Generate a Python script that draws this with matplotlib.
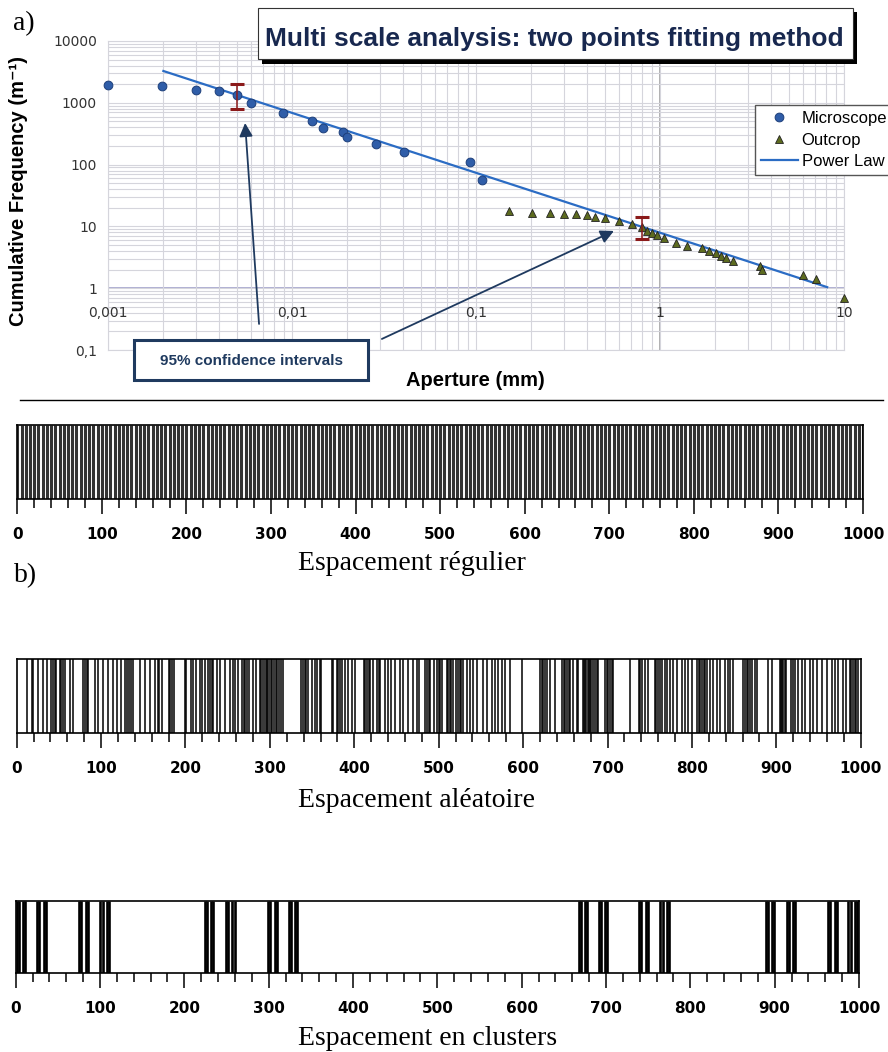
import numpy as np
import matplotlib
matplotlib.use("Agg")
import matplotlib.pyplot as plt
from matplotlib.patches import Rectangle
from matplotlib.lines import Line2D
from matplotlib.ticker import MultipleLocator, NullFormatter

W, H = 888, 1052

# ---- a) multi scale analysis ----
micro_x = [0.001, 0.00196, 0.003, 0.004, 0.005, 0.006, 0.0089, 0.0128, 0.0147,
           0.0189, 0.0199, 0.0286, 0.0407, 0.0927, 0.108]
micro_y = [1940, 1870, 1610, 1550, 1340, 1000, 685, 510, 391, 337, 280, 215, 160,
           110, 56]
outcrop_x = [0.151, 0.201, 0.252, 0.301, 0.349, 0.401, 0.443, 0.502, 0.598, 0.705,
             0.798, 0.85, 0.905, 0.964, 1.05, 1.22, 1.40, 1.69, 1.85, 2.01, 2.15,
             2.29, 2.49, 3.49, 3.58, 5.98, 7.04, 10.0]
outcrop_y = [17.7, 16.5, 16.5, 15.9, 15.9, 15.3, 14.2, 13.7, 12.2, 10.9, 9.8, 8.4,
             7.8, 7.3, 6.5, 5.4, 4.8, 4.5, 4.0, 3.7, 3.3, 3.08, 2.75, 2.29, 1.97,
             1.64, 1.41, 0.69]
law_x = [0.002, 8.1]
law_y = [3270, 1.04]
err_x = [0.005, 0.8]
err_lo = [794, 6.3]
err_hi = [2010, 14.2]

x_ticks = [0.001, 0.01, 0.1, 1, 10]
x_tick_labels = ["0,001", "0,01", "0,1", "1", "10"]
y_ticks = [0.1, 1, 10, 100, 1000, 10000]
y_tick_labels = ["0,1", "1", "10", "100", "1000", "10000"]

# ---- b) spacing strips ----
regular_pos = [
    0, 5, 10, 15, 20, 25, 30, 35, 40, 45, 50, 55, 60, 65, 70, 75, 80, 85, 90, 95,
    100, 105, 110, 115, 120, 125, 130, 135, 140, 145, 150, 155, 160, 165, 170, 175, 180, 185, 190, 195,
    200, 205, 210, 215, 220, 225, 230, 235, 240, 245, 250, 255, 260, 265, 270, 275, 280, 285, 290, 295,
    300, 305, 310, 315, 320, 325, 330, 335, 340, 345, 350, 355, 360, 365, 370, 375, 380, 385, 390, 395,
    400, 405, 410, 415, 420, 425, 430, 435, 440, 445, 450, 455, 460, 465, 470, 475, 480, 485, 490, 495,
    500, 505, 510, 515, 520, 525, 530, 535, 540, 545, 550, 555, 560, 565, 570, 575, 580, 585, 590, 595,
    600, 605, 610, 615, 620, 625, 630, 635, 640, 645, 650, 655, 660, 665, 670, 675, 680, 685, 690, 695,
    700, 705, 710, 715, 720, 725, 730, 735, 740, 745, 750, 755, 760, 765, 770, 775, 780, 785, 790, 795,
    800, 805, 810, 815, 820, 825, 830, 835, 840, 845, 850, 855, 860, 865, 870, 875, 880, 885, 890, 895,
    900, 905, 910, 915, 920, 925, 930, 935, 940, 945, 950, 955, 960, 965, 970, 975, 980, 985, 990, 995,
    1000]

random_pos = [
    11.8, 17.8, 19.7, 25.6, 30.8, 35.5, 41, 43, 45, 47, 51, 53, 55, 57, 63.2, 67,
    79, 81, 83, 85, 92.8, 96.7, 102.6, 108.5, 114.5, 118.5, 123.2, 128, 130.5, 133,
    135.5, 138, 146, 152, 158, 164, 167, 169, 172, 180, 182, 184, 186, 199, 201,
    207, 209, 213, 217, 219, 223, 227, 229, 231, 233, 237, 241, 247, 253, 256,
    258.7, 262.6, 267, 269, 271, 273, 275, 280, 284, 288, 290, 292, 294, 296, 297,
    299, 301, 303, 305, 307, 309, 311, 313, 316, 337, 339, 341, 343, 345.5, 349.5,
    353, 356, 359, 361, 373, 375, 379, 381, 383, 385, 389, 393, 397, 401, 411, 413,
    415, 417, 418.6, 422.5, 427, 429, 431, 436, 440, 444, 448, 454, 458, 464, 470,
    474, 477, 484, 486, 488, 490, 494, 498, 500, 502, 504, 509.5, 511.4, 513, 515,
    517, 521, 523, 525, 527, 529, 533, 537, 541, 545, 553, 557, 563, 567, 570.6,
    574.6, 578.6, 584.5, 598.3, 620, 622, 624, 626, 628, 632, 638, 646, 648, 650,
    652, 654, 656, 659.5, 663.5, 665.4, 671, 672, 673.5, 675, 676.5, 678, 679.5,
    681, 683, 685, 687, 689, 697, 699, 701, 703, 705, 707, 726.4, 737, 739, 741,
    744.4, 748.3, 756, 758, 760, 762, 765, 768, 770, 774, 778, 782, 788, 792, 795.7,
    799.7, 806, 808, 810, 812, 814, 816, 818, 821.4, 825.4, 829.4, 833.3, 839, 843,
    845, 849, 861, 863, 865, 867, 869, 871, 874.8, 876.8, 890.5, 894.5, 904, 905.5,
    907, 908.5, 910, 911.5, 918, 920, 922, 926, 930, 934, 940, 944, 948, 954, 960,
    965.6, 969.5, 973.5, 979, 983, 987, 989, 991, 993, 995, 997]

cluster_pos = [
    1.5, 4, 9, 11.5, 25.5, 28, 33, 35.5, 75.5, 78, 83, 85.5, 100.5, 103, 108, 110.5,
    224.5, 227, 232, 234.5, 249.5, 252, 257, 259.5, 299.5, 302, 307, 309.5,
    323.5, 326, 331, 333.5, 667.5, 670, 675, 677.5, 691.5, 694, 699, 701.5,
    739.5, 742, 747, 749.5, 764.5, 767, 772, 774.5, 889.5, 892, 897, 899.5,
    914.5, 917, 922, 924.5, 963.5, 966, 971, 973.5, 987.5, 990, 995, 997.5]

strip_ticks = [0, 100, 200, 300, 400, 500, 600, 700, 800, 900, 1000]
captions = ["Espacement régulier", "Espacement aléatoire", "Espacement en clusters"]

NAVY = "#1f3a5f"
SANS = ["Liberation Sans", "DejaVu Sans"]
SERIF = ["Liberation Serif", "DejaVu Serif"]


def rect(left, top, right, bottom):
    return [left / W, 1 - bottom / H, (right - left) / W, (bottom - top) / H]


def fx(px):
    return px / W


def fy(py):
    return 1 - py / H


fig = plt.figure(figsize=(W / 100, H / 100), dpi=100)

# ---------------- top chart ----------------
ax = fig.add_axes(rect(108, 41, 844, 350))
ax.set_xscale("log")
ax.set_yscale("log")
ax.set_xlim(0.001, 10)
ax.set_ylim(0.1, 10000)
ax.set_xticks(x_ticks, [""] * len(x_ticks))
ax.set_yticks(y_ticks, y_tick_labels)
ax.xaxis.set_minor_formatter(NullFormatter())
ax.yaxis.set_minor_formatter(NullFormatter())
ax.tick_params(which="both", length=0)
ax.tick_params(axis="y", pad=8, labelsize=10, labelcolor="#333")
ax.grid(which="both", color="#d5d5dc", lw=0.8)
for s in ax.spines.values():
    s.set_color("#d5d5dc")
    s.set_linewidth(0.8)
ax.axhline(1, color="#9a9ac8", lw=1.1, zorder=1)
ax.axvline(1, color="#9a9a9a", lw=1.1, zorder=1)
for xv, lab in zip(x_ticks, x_tick_labels):
    ax.text(xv, 0.4, lab, ha="center", va="center", fontsize=10, color="#333")

line_law, = ax.plot(law_x, law_y, color="#2b6cc4", lw=1.6, zorder=3)
pts_micro, = ax.plot(micro_x, micro_y, "o", ms=6.3, mfc="#2f5da8", mec="#1d3f7a",
                     mew=0.7, clip_on=False, zorder=4)
pts_out, = ax.plot(outcrop_x, outcrop_y, "^", ms=5.5, mfc="#5d6b1f", mec="#222",
                   mew=0.6, clip_on=False, zorder=4)
err_y = np.array(err_lo)
err_up = np.array(err_hi) - err_y
ax.errorbar(err_x, err_y, yerr=[np.zeros(2), err_up], fmt="none",
            ecolor="#8b1a1a", elinewidth=1.1, capsize=5, capthick=2.2, zorder=5)

ax.set_ylabel("Cumulative Frequency (m⁻¹)", fontsize=14.5, fontweight="bold",
              family=SANS, labelpad=0)
ax.yaxis.label.set_verticalalignment("center")
ax.yaxis.set_label_coords((19 - 108) / (844 - 108), (350 - 191) / (350 - 41))
ax.set_xlabel("Aperture (mm)", fontsize=14.5, fontweight="bold", family=SANS)
ax.xaxis.label.set_verticalalignment("center")
ax.xaxis.set_label_coords((475 - 108) / (844 - 108), -(381 - 350) / (350 - 41))

arrow = dict(arrowstyle="-|>", color=NAVY, lw=1.3, mutation_scale=20,
             shrinkA=0, shrinkB=0)
ax.annotate("", xy=(0.00556, 471), xytext=(0.00662, 0.264), arrowprops=arrow,
            annotation_clip=False, zorder=6)
ax.annotate("", xy=(0.562, 8.44), xytext=(0.0308, 0.151), arrowprops=arrow,
            annotation_clip=False, zorder=6)

ax.legend([pts_micro, pts_out, line_law], ["Microscope", "Outcrop", "Power Law"],
          loc="upper left", bbox_to_anchor=(fx(755), fy(105)),
          bbox_transform=fig.transFigure, borderaxespad=0, fancybox=False,
          edgecolor="#555", framealpha=1, prop={"family": SANS, "size": 12},
          borderpad=0.35, labelspacing=0.4, handlelength=2.2, handletextpad=0.25)

# title box with shadow
fig.add_artist(Rectangle((fx(262), fy(64)), fx(857) - fx(262), fy(12) - fy(64),
                         transform=fig.transFigure, fc="black", ec="none", zorder=5))
fig.add_artist(Rectangle((fx(258), fy(59)), fx(853) - fx(258), fy(8) - fy(59),
                         transform=fig.transFigure, fc="white", ec="#333", lw=0.8,
                         zorder=6))
fig.text(fx(265), fy(46), "Multi scale analysis: two points fitting method",
         fontsize=19, fontweight="heavy", color="#18284f", family=SANS,
         va="baseline", zorder=7)

# confidence interval box
fig.add_artist(Rectangle((fx(134), fy(380)), fx(368) - fx(134), fy(340) - fy(380),
                         transform=fig.transFigure, fc="white", ec=NAVY, lw=2.2,
                         zorder=6))
fig.text(fx(251), fy(361), "95% confidence intervals", fontsize=11,
         fontweight="bold", color=NAVY, family=SANS, ha="center", va="center",
         zorder=7)

fig.text(fx(13), fy(30), "a)", fontsize=20, family=SERIF, va="baseline")
fig.add_artist(Line2D([fx(20), fx(883)], [fy(400), fy(400)], color="black", lw=1))

# ---------------- strips ----------------
strips = [
    (rect(17.3, 425, 863, 499), regular_pos, 2.2, "#333333", 570),
    (rect(16.7, 659, 860.7, 733), random_pos, 1.1, "black", 807),
    (rect(15.7, 901, 859, 973), cluster_pos, 1.9, "black", 1045),
]
for (r, pos, lw, col, base), cap in zip(strips, captions):
    sa = fig.add_axes(r)
    sa.set_xlim(0, 1000)
    sa.set_ylim(0, 1)
    sa.vlines(pos, 0, 1, color=col, lw=lw)
    sa.set_yticks([])
    sa.set_xticks(strip_ticks, [str(t) for t in strip_ticks])
    sa.xaxis.set_minor_locator(MultipleLocator(20))
    sa.tick_params(which="major", length=11, width=1.1, pad=9, labelsize=11)
    sa.tick_params(which="minor", length=6.5, width=1.1)
    for lab in sa.get_xticklabels():
        lab.set_fontweight("bold")
        lab.set_family("DejaVu Sans")
    for s in sa.spines.values():
        s.set_linewidth(1.2)
    fig.text(fx(298), fy(base), cap, fontsize=20, family=SERIF, va="baseline")

fig.text(fx(14), fy(582), "b)", fontsize=20, family=SERIF, va="baseline")

fig.savefig("out.png", dpi=100)
